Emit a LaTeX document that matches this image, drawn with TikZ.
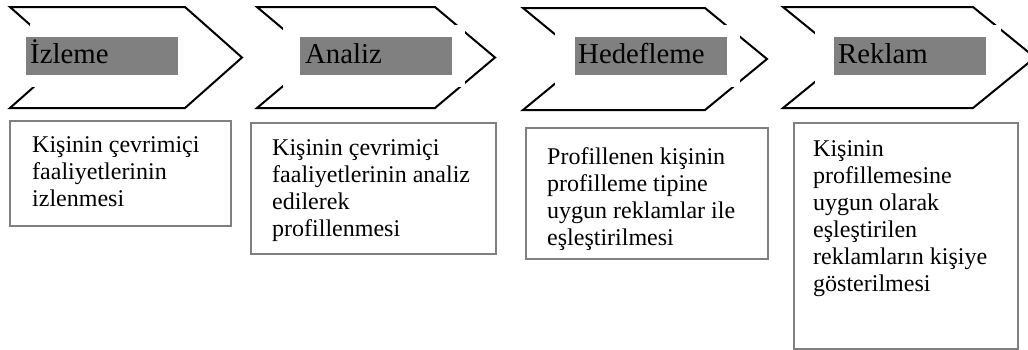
\documentclass[tikz,border=0pt]{standalone}
\usepackage{fontspec}
\setmainfont{Liberation Serif}
\begin{document}
\begin{tikzpicture}[x=1pt,y=-1pt,
  chev/.style={draw=black, line width=2pt, line join=miter},
  cover/.style={fill=white, draw=none},
  tagbox/.style={fill=black!50, draw=none, inner sep=0pt, anchor=north west, minimum height=38pt},
  tagtext/.style={anchor=base west, inner sep=0pt, font=\fontsize{28.8}{33}\selectfont},
  descbox/.style={draw=black!50, line width=2pt, fill=white, inner sep=0pt, anchor=north west},
  desc/.style={anchor=north west, inner sep=0pt, align=left, font=\fontsize{24}{27}\selectfont}
]
\useasboundingbox (0,0) rectangle (1028,349);
\clip (0,0) rectangle (1028,349);
% chevrons
\draw[chev] (10,7) -- (185,7) -- (242,57.5) -- (185,108) -- (10,108) -- (67,57.5) -- cycle;
\draw[chev] (257,7) -- (435,7) -- (495,57.5) -- (435,108) -- (257,108) -- (317,57.5) -- cycle;
\draw[chev] (523,8) -- (705,8) -- (767,59) -- (705,110) -- (523,110) -- (585,59) -- cycle;
\draw[chev] (783,7) -- (973,7) -- (1035,57.5) -- (973,108) -- (783,108) -- (845,57.5) -- cycle;
% white text areas over the chevrons
\fill[cover] (30,24) rectangle (200,87);
\fill[cover] (283,25) rectangle (465,87);
\fill[cover] (555,25) rectangle (740,87);
\fill[cover] (815,25) rectangle (1001,84);
% grey highlighted titles
\node[tagbox, minimum width=152pt] (g1) at (26,37) {};
\node[tagbox, minimum width=152pt] (g2) at (300,37) {};
\node[tagbox, minimum width=152pt] (g3) at (575,37) {};
\node[tagbox, minimum width=152pt] (g4) at (834,37) {};
\node[tagtext] (t1) at (30,63) {İzleme};
\node[tagtext] (t2) at (305,63) {Analiz};
\node[tagtext] (t3) at (578,63) {Hedefleme};
\node[tagtext] (t4) at (838,63) {Reklam};
% description boxes
\node[descbox, minimum width=221pt, minimum height=105pt] (b1) at (9,120) {};
\node[descbox, minimum width=245pt, minimum height=131pt] (b2) at (250,122) {};
\node[descbox, minimum width=242pt, minimum height=131pt] (b3) at (525,127) {};
\node[descbox, minimum width=224pt, minimum height=226pt] (b4) at (793,122) {};
\node[desc] (d1) at (32,136.6) {Kişinin çevrimiçi\\faaliyetlerinin\\izlenmesi};
\node[desc] (d2) at (272,139) {Kişinin çevrimiçi\\faaliyetlerinin analiz\\edilerek\\profillenmesi};
\node[desc] (d3) at (547,147.6) {Profillenen kişinin\\profilleme tipine\\uygun reklamlar ile\\eşleştirilmesi};
\node[desc] (d4) at (813,140) {Kişinin\\profillemesine\\uygun olarak\\eşleştirilen\\reklamların kişiye\\gösterilmesi};
\end{tikzpicture}
\end{document}
